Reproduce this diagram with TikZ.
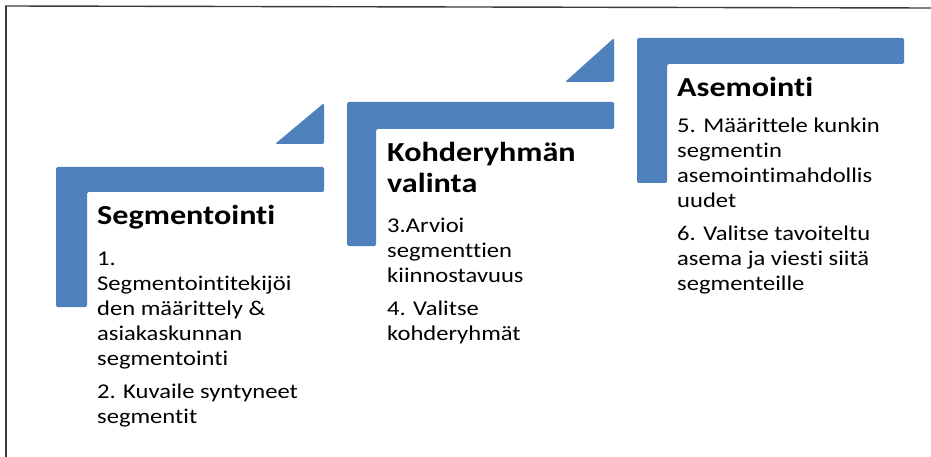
\documentclass[tikz,border=0pt]{standalone}
\usepackage{fontspec}
\setmainfont{Carlito}[FakeStretch=1.17, Ligatures=CommonOff]
\definecolor{stepblue}{HTML}{4F81BD}
\definecolor{framegray}{HTML}{3A3A3A}
\tikzset{
  x=1pt, y=-1pt,
  stepbar/.style={fill=stepblue, draw=none, rounded corners=1.5pt},
  frameline/.style={draw=framegray, line width=1.4pt},
  titletext/.style={anchor=base west, inner sep=0pt, font=\fontsize{27.5}{31}\selectfont\bfseries},
  bodytext/.style={anchor=base west, inner sep=0pt, font=\fontsize{21}{25}\selectfont},
}
\newcommand{\stepblock}[1]{\parbox[t]{260pt}{\raggedright #1}}
\begin{document}
\begin{tikzpicture}
  \useasboundingbox (0,0) rectangle (931,457);
  % outer frame: top and left edges only
  \draw[frameline] (5,6) -- (931,8);
  \draw[frameline] (6,6) -- (6,457);

  % step 1
  \fill[stepbar] (56,167) -- (324,167) -- (324,192) -- (87,192) -- (87,307) -- (56,307) -- cycle;
  \fill[stepbar] (275,144) -- (324,144) -- (324,103) -- cycle;
  % step 2
  \fill[stepbar] (347,102) -- (614,102) -- (614,129) -- (376,129) -- (376,246) -- (347,246) -- cycle;
  \fill[stepbar] (565,82) -- (614,82) -- (614,38) -- cycle;
  % step 3
  \fill[stepbar] (637,38) -- (904,38) -- (904,64) -- (667,64) -- (667,183) -- (637,183) -- cycle;

  % texts of step 1
  \node[titletext] (t1) at (97,224) {Segmentointi};
  \node[bodytext] (b1) at (97,265) {\stepblock{1.\\Segmentointitekijöi\\den määrittely \&\\asiakaskunnan\\segmentointi\par\vspace{8pt}2. Kuvaile syntyneet\\segmentit}};

  % texts of step 2
  \node[titletext] (t2) at (387,162) {\stepblock{Kohderyhmän\\valinta}};
  \node[bodytext] (b2) at (387,232) {\stepblock{3.Arvioi\\segmenttien\\kiinnostavuus\par\vspace{8pt}4. Valitse\\kohderyhmät}};

  % texts of step 3
  \node[titletext] (t3) at (677,97) {Asemointi};
  \node[bodytext] (b3) at (677,133) {\stepblock{5. Määrittele kunkin\\segmentin\\asemointimahdollis\\uudet\par\vspace{8pt}6. Valitse tavoiteltu\\asema ja viesti siitä\\segmenteille}};
\end{tikzpicture}
\end{document}
